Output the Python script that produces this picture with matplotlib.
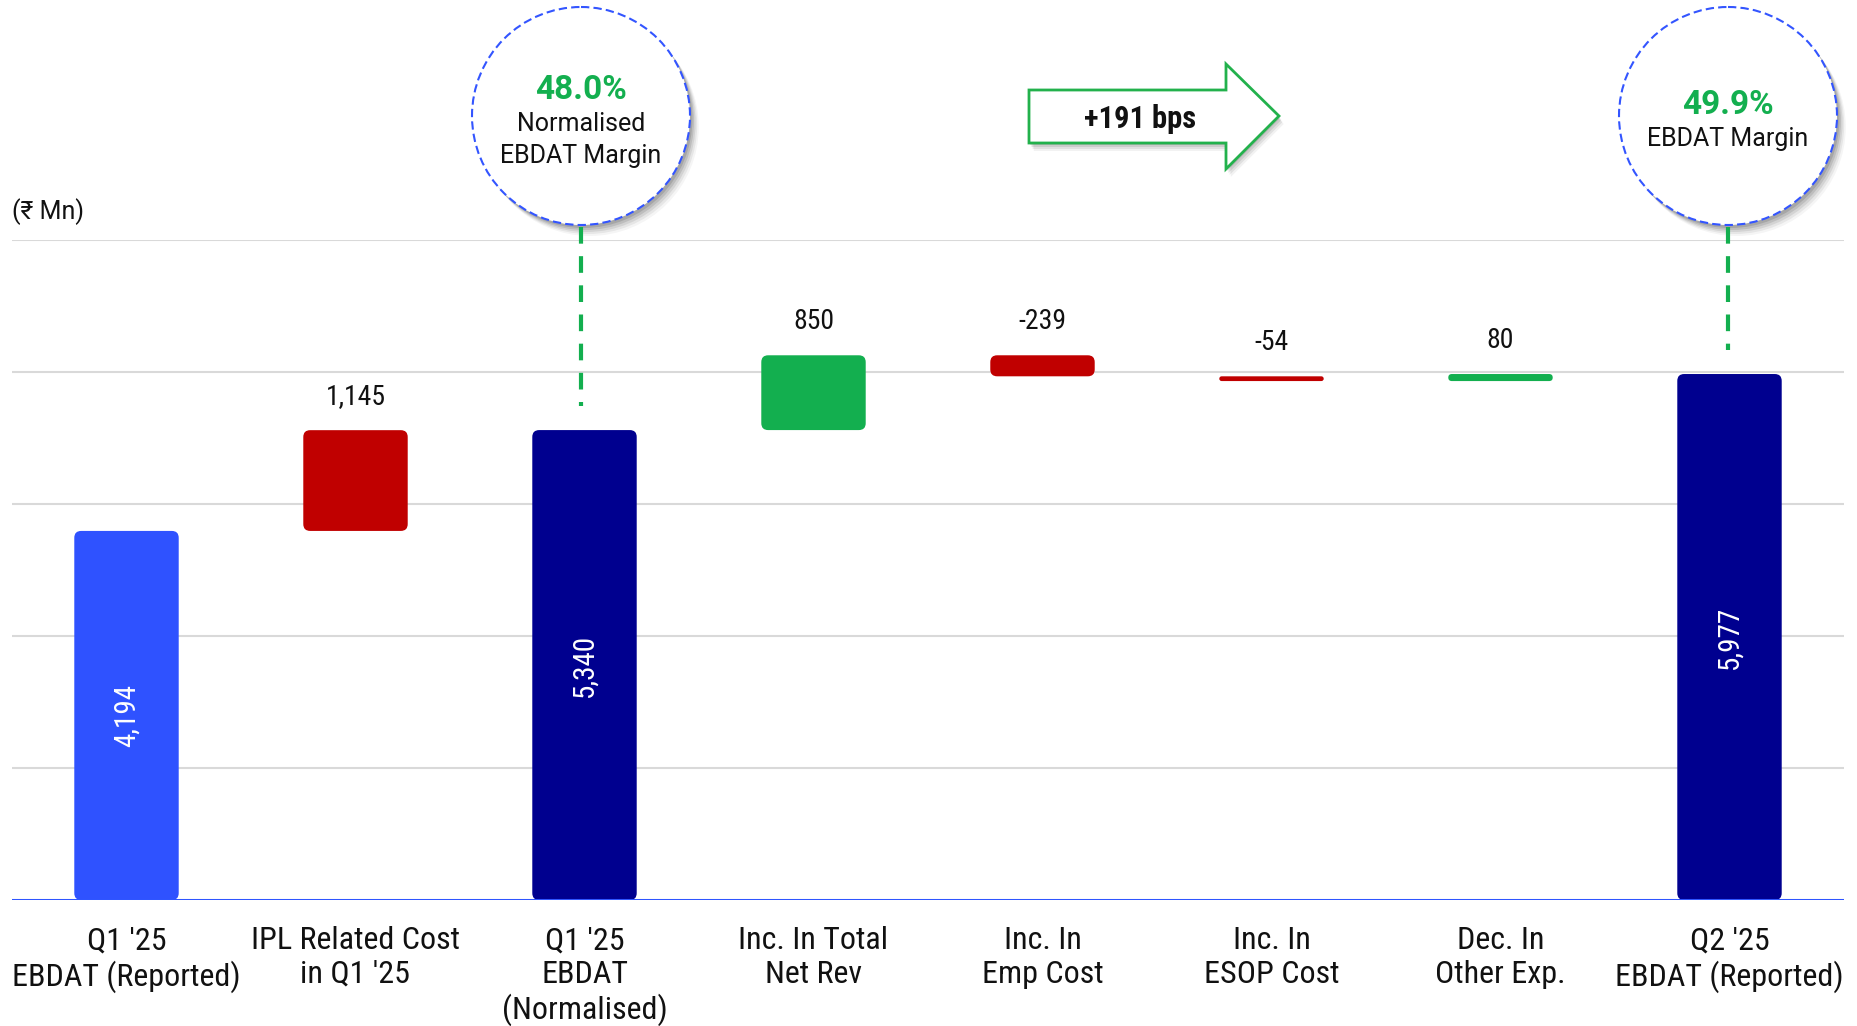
import matplotlib
matplotlib.use("Agg")
import matplotlib.pyplot as plt
from matplotlib import font_manager
from matplotlib.patches import FancyBboxPatch, Circle, Polygon

# Dane wykresu (₹ Mn)
categories = ["Q1 '25\nEBDAT (Reported)", "IPL Related Cost\nin Q1 '25", "Q1 '25\nEBDAT\n(Normalised)",
              "Inc. In Total\nNet Rev", "Inc. In\nEmp Cost", "Inc. In\nESOP Cost",
              "Dec. In\nOther Exp.", "Q2 '25\nEBDAT (Reported)"]
values = [4194, 1145, 5340, 850, -239, -54, 80, 5977]
kinds = ["start", "cost", "total", "gain", "cost", "cost", "gain", "total"]
value_labels = ["4,194", "1,145", "5,340", "850", "-239", "-54", "80", "5,977"]
margin_left = ("48.0%", "Normalised\nEBDAT Margin")
margin_right = ("49.9%", "EBDAT Margin")
margin_change = "+191 bps"

COLORS = {"start": "#2F52FF", "total": "#00008F", "gain": "#13AF4F", "cost": "#C00000"}
GREEN = "#13AF4F"

names = {f.name for f in font_manager.fontManager.ttflist}
FONT = "DejaVu Sans"
for cand in ["Roboto Condensed", "Liberation Sans Narrow", "Roboto"]:
    if cand in names:
        FONT = cand
        break
FONT2 = "Roboto" if "Roboto" in names else FONT
plt.rcParams['font.family'] = [FONT, 'DejaVu Sans']

W, H = 1857, 1026
fig = plt.figure(figsize=(W / 100, H / 100), dpi=100)
ax = fig.add_axes([12 / W, 1 - 900 / H, (1844 - 12) / W, 660 / H])

ax.set_xlim(-0.5, len(values) - 0.5)
ax.set_ylim(0, 7500)
for s in ax.spines.values():
    s.set_visible(False)
ax.set_yticks([])
for g in range(1500, 7501, 1500):
    ax.axhline(g, color="#D9D9D9", lw=1.5, zorder=0)
ax.axhline(0, color="#2F55FF", lw=2.2, zorder=3)

# przeliczenie jednostek y na x, zeby zaokraglenia byly okragle
aspect = (7500 / 660) * ((1844 - 12) / len(values))
bw = 0.456
running = 0
for i, (v, k) in enumerate(zip(values, kinds)):
    if k in ("start", "total"):
        bottom, top = 0, v
        running = v
    else:
        bottom, top = running, running + v
        if v < 0:
            bottom, top = top, bottom
        running += v
    h = top - bottom
    r = min(0.03, h / aspect / 2)
    p = FancyBboxPatch((i - bw / 2, bottom), bw, h,
                       boxstyle=f"round,pad=0,rounding_size={r}",
                       mutation_aspect=aspect, fc=COLORS[k], ec="none", zorder=2)
    ax.add_patch(p)
    if k in ("start", "total"):
        ax.text(i, h / 2, value_labels[i], rotation=90, color="white",
                ha="center", va="center", fontsize=21, zorder=4)
    else:
        ax.annotate(value_labels[i], (i, top), xytext=(0, 24), textcoords="offset points",
                    ha="center", va="center", fontsize=20, color="#111111")

ax.set_xticks(range(len(categories)))
ax.set_xticklabels(categories, fontsize=23, color="#111111", linespacing=1.18)
ax.tick_params(axis="x", length=0, pad=19)

# nakladka w pikselach dla dekoracji
ov = fig.add_axes([0, 0, 1, 1], zorder=5)
ov.set_xlim(0, W)
ov.set_ylim(H, 0)
ov.axis("off")
ov.patch.set_alpha(0)

ov.text(12, 212, "(₹ Mn)", fontsize=18, va="center", ha="left", color="#111111",
        family=[FONT2, "DejaVu Sans"])


def bubble(cx, cy, r):
    for k, a in [(11, 0.04), (9, 0.06), (7, 0.08), (5, 0.1), (3, 0.12)]:
        ov.add_patch(Circle((cx + k * 0.8, cy + k), r, fc="black", ec="none", alpha=a))
    ov.add_patch(Circle((cx, cy), r, fc="white", ec="#3355FF", lw=1.5, ls=(0, (4, 2))))


bubble(581, 116, 109)
ov.text(581, 90, margin_left[0], fontsize=24, fontweight="bold", color=GREEN, ha="center",
        va="center", family=[FONT2, "DejaVu Sans"])
ov.text(581, 140, margin_left[1], fontsize=18, color="#111111", ha="center", va="center",
        linespacing=1.45, family=[FONT2, "DejaVu Sans"])
ov.plot([581, 581], [227, 406], color=GREEN, lw=3, ls=(0, (4, 3)))

bubble(1728, 116, 109)
ov.text(1728, 105, margin_right[0], fontsize=24, fontweight="bold", color=GREEN, ha="center",
        va="center", family=[FONT2, "DejaVu Sans"])
ov.text(1728, 139, margin_right[1], fontsize=18, color="#111111", ha="center", va="center",
        family=[FONT2, "DejaVu Sans"])
ov.plot([1728, 1728], [227, 350], color=GREEN, lw=3, ls=(0, (4, 3)))

# strzalka +191 bps
arrow = [(1029, 90), (1226, 90), (1226, 64), (1279, 116), (1226, 169), (1226, 143), (1029, 143)]
for k, a in [(8, 0.05), (6, 0.07), (4, 0.09), (2, 0.1)]:
    ov.add_patch(Polygon([(x + k * 0.6, y + k) for x, y in arrow], fc="black", ec="none", alpha=a))
ov.add_patch(Polygon(arrow, fc="white", ec="#22B14C", lw=2))
ov.text(1140, 119, margin_change, fontsize=22, fontweight="semibold", color="#111111",
        ha="center", va="center")

fig.savefig("out.png", dpi=100)
